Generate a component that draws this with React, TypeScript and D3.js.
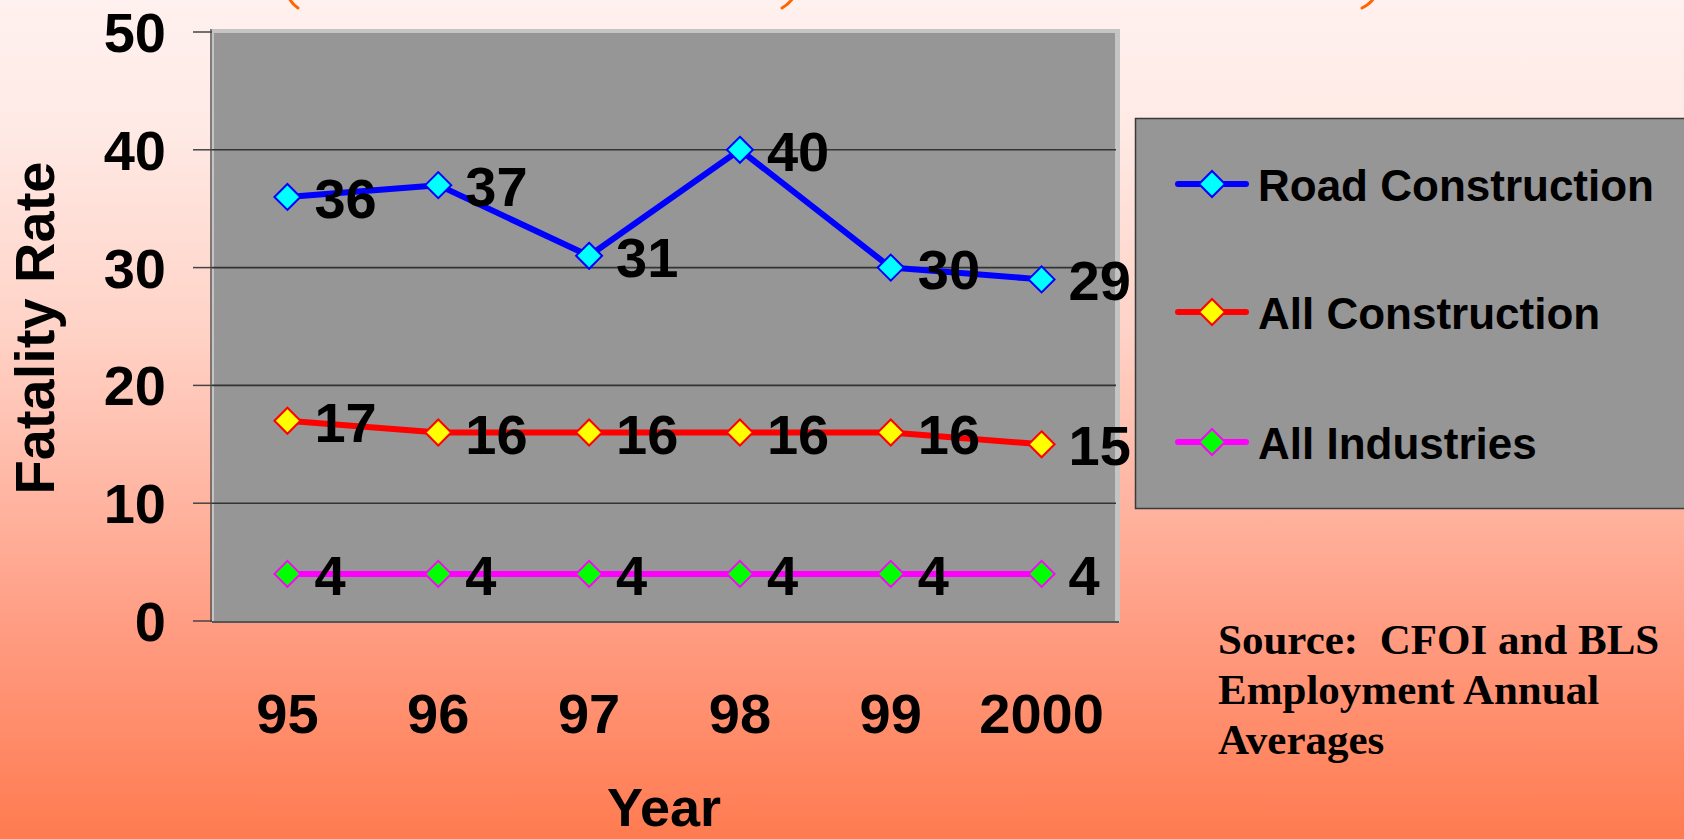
import * as d3 from 'd3';

const years = ['95', '96', '97', '98', '99', '2000'];
const roadConstruction = [36, 37, 31, 40, 30, 29];
const allConstruction = [17, 16, 16, 16, 16, 15];
const allIndustries = [4, 4, 4, 4, 4, 4];
const yTicks = [0, 10, 20, 30, 40, 50];
const sourceLines = ['Source:  CFOI and BLS', 'Employment Annual', 'Averages'];

const series = [
  { name: 'Road Construction', values: roadConstruction, line: '#0000ff', fill: '#00ffff' },
  { name: 'All Construction', values: allConstruction, line: '#ff0000', fill: '#ffff00' },
  { name: 'All Industries', values: allIndustries, line: '#ff00ff', fill: '#00ff00' },
];

const W = 1684;
const H = 839;
const plot = { left: 212, right: 1117, top: 32, bottom: 621 };
const sans = '"Liberation Sans", Arial, sans-serif';
const serif = '"Liberation Serif", "Times New Roman", serif';

const diamond = (x: number, y: number, r: number) =>
  `M${x},${y - r}L${x + r},${y}L${x},${y + r}L${x - r},${y}Z`;

export default function App() {
  const x = d3.scalePoint<string>().domain(years).range([plot.left, plot.right]).padding(0.5);
  const y = d3.scaleLinear().domain([0, 50]).range([plot.bottom, plot.top]);
  const line = d3
    .line<number>()
    .x((_, i) => x(years[i])!)
    .y((d) => y(d));

  const legendY = [184, 312, 442];

  return (
    <div style={{ position: 'fixed', left: 0, top: 0, width: W, height: H }}>
      <svg width={W} height={H} viewBox={`0 0 ${W} ${H}`} style={{ display: 'block' }}>
        <defs>
          <linearGradient id="bg" x1="0" y1="0" x2="0" y2="1">
            <stop offset="0" stopColor="#fff1ef" />
            <stop offset="0.15" stopColor="#ffeae5" />
            <stop offset="0.4" stopColor="#ffd2c6" />
            <stop offset="0.6" stopColor="#ffb4a0" />
            <stop offset="0.75" stopColor="#ff9c82" />
            <stop offset="1" stopColor="#ff7b50" />
          </linearGradient>
        </defs>
        <rect x={0} y={0} width={W} height={H} fill="url(#bg)" />

        {/* bits of the cut-off title */}
        <g stroke="#ff6600" strokeWidth={3} fill="none" strokeLinecap="round">
          <path d="M289,-2 Q292,4 298,8" />
          <path d="M793,-2 Q789,4 782,8" />
          <path d="M1374,-2 Q1370,4 1362,8" />
        </g>

        {/* plot area */}
        <rect x={plot.left} y={29} width={908} height={594} fill="#c4c4c4" />
        <rect x={plot.left + 2} y={33} width={901} height={588} fill="#969696" />

        {yTicks.filter((t) => t > 0 && t < 50).map((t) => (
          <line key={`g${t}`} x1={plot.left} x2={plot.right - 1} y1={y(t)} y2={y(t)} stroke="#333" strokeWidth={1.6} />
        ))}

        {/* axes */}
        <line x1={plot.left - 1} x2={plot.left - 1} y1={29} y2={plot.bottom + 1} stroke="#555" strokeWidth={1.5} />
        <line x1={plot.left} x2={plot.right + 2} y1={plot.bottom + 1} y2={plot.bottom + 1} stroke="#555" strokeWidth={2} />
        {yTicks.map((t) => (
          <g key={`t${t}`}>
            <line x1={193} x2={plot.left} y1={y(t)} y2={y(t)} stroke="#444" strokeWidth={1.5} />
            <text x={166} y={y(t) + 20} textAnchor="end" fontFamily={sans} fontWeight="bold" fontSize={56} fill="#000">
              {t}
            </text>
          </g>
        ))}
        {years.map((yr) => (
          <text key={yr} x={x(yr)} y={733} textAnchor="middle" fontFamily={sans} fontWeight="bold" fontSize={56} fill="#000">
            {yr}
          </text>
        ))}
        <text x={664} y={826} textAnchor="middle" fontFamily={sans} fontWeight="bold" fontSize={54} fill="#000">
          Year
        </text>
        <text
          transform="translate(54,328) rotate(-90)"
          textAnchor="middle"
          fontFamily={sans}
          fontWeight="bold"
          fontSize={56}
          fill="#000"
        >
          Fatality Rate
        </text>

        {/* series */}
        {series.map((s) => (
          <g key={s.name}>
            <path d={line(s.values)!} fill="none" stroke={s.line} strokeWidth={6} strokeLinejoin="round" />
            {s.values.map((v, i) => (
              <path key={i} d={diamond(x(years[i])!, y(v), 13)} fill={s.fill} stroke={s.line} strokeWidth={2} />
            ))}
          </g>
        ))}
        {series.map((s) =>
          s.values.map((v, i) => (
            <text
              key={`${s.name}-${i}`}
              x={x(years[i])! + 27}
              y={y(v) + 21}
              fontFamily={sans}
              fontWeight="bold"
              fontSize={56}
              fill="#000"
            >
              {v}
            </text>
          ))
        )}

        {/* legend */}
        <rect x={1135.5} y={118.5} width={600} height={390} fill="#969696" stroke="#3a3a3a" strokeWidth={1.5} />
        {series.map((s, i) => (
          <g key={`lg${s.name}`}>
            <line x1={1178} x2={1246} y1={legendY[i]} y2={legendY[i]} stroke={s.line} strokeWidth={6} strokeLinecap="round" />
            <path d={diamond(1212, legendY[i], 13)} fill={s.fill} stroke={s.line} strokeWidth={2} />
            <text x={1258} y={legendY[i] + 17} fontFamily={sans} fontWeight="bold" fontSize={44} fill="#000">
              {s.name}
            </text>
          </g>
        ))}

        {/* source note */}
        {sourceLines.map((l, i) => (
          <text
            key={l}
            x={1218}
            y={654 + i * 50}
            fontFamily={serif}
            fontWeight="bold"
            fontSize={43}
            fill="#000"
            style={{ whiteSpace: 'pre' }}
          >
            {l}
          </text>
        ))}
      </svg>
    </div>
  );
}
